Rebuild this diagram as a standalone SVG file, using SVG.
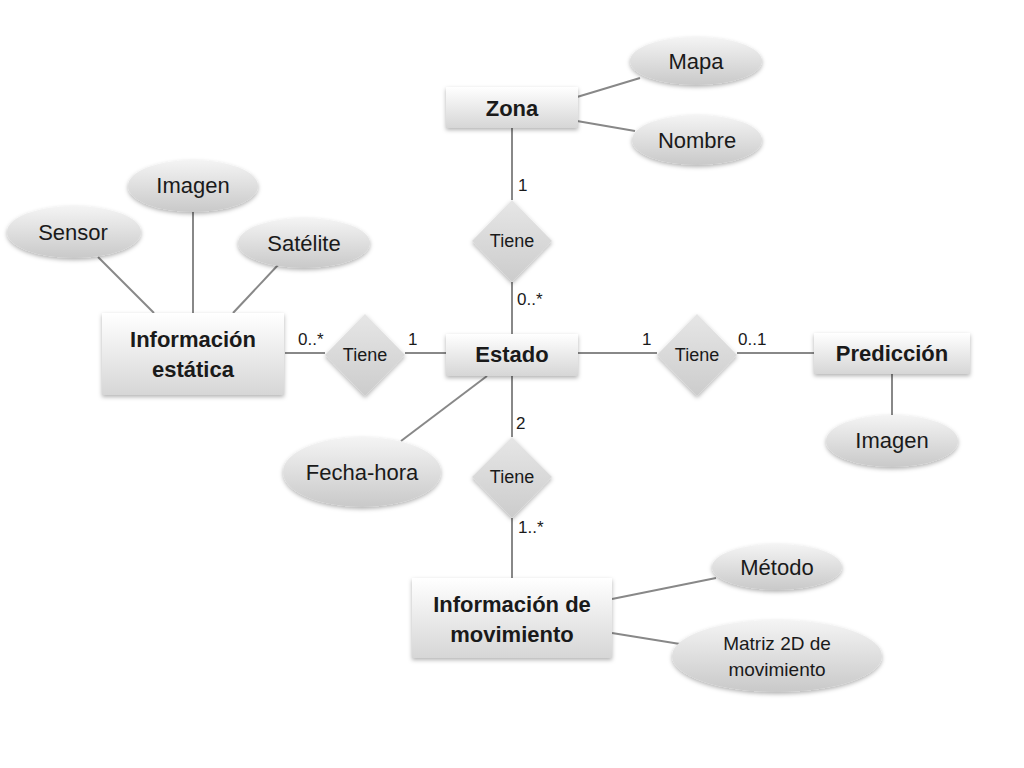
<svg xmlns="http://www.w3.org/2000/svg" width="1024" height="768" viewBox="0 0 1024 768">
<defs>
<linearGradient id="gEnt" x1="0" y1="0" x2="0" y2="1"><stop offset="0" stop-color="#ffffff"/><stop offset="1" stop-color="#d6d6d6"/></linearGradient>
<linearGradient id="gAtt" x1="0" y1="0" x2="0" y2="1"><stop offset="0" stop-color="#f4f4f4"/><stop offset="1" stop-color="#c9c9c9"/></linearGradient>
<linearGradient id="gRel" x1="0" y1="0" x2="0" y2="1"><stop offset="0" stop-color="#e6e6e6"/><stop offset="1" stop-color="#cccccc"/></linearGradient>
<filter id="sh" x="-20%" y="-20%" width="140%" height="150%"><feDropShadow dx="0" dy="2" stdDeviation="2" flood-color="#000" flood-opacity="0.3"/></filter>
<style>
.ent{fill:url(#gEnt);filter:url(#sh)}
.att{fill:url(#gAtt);filter:url(#sh)}
.rel{fill:url(#gRel);filter:url(#sh)}
.ln{stroke:#888;stroke-width:2;fill:none}
text{font-family:"Liberation Sans",Arial,sans-serif;fill:#1a1a1a;text-anchor:middle}
.et{font-size:22px;font-weight:bold}
.at{font-size:22px}
.rt{font-size:18px}
.ct{font-size:17px;text-anchor:start}
.mt{font-size:19px}
</style>
</defs>
<g id="connectors">
<line class="ln" x1="512" y1="128" x2="512" y2="200"/>
<line class="ln" x1="512" y1="282" x2="512" y2="335"/>
<line class="ln" x1="577" y1="97" x2="640" y2="78"/>
<line class="ln" x1="577" y1="121" x2="635" y2="131"/>
<line class="ln" x1="446" y1="353" x2="405" y2="353"/>
<line class="ln" x1="325" y1="353" x2="285" y2="353"/>
<line class="ln" x1="98" y1="257" x2="154" y2="313"/>
<line class="ln" x1="193" y1="212" x2="193" y2="313"/>
<line class="ln" x1="278" y1="265" x2="233" y2="313"/>
<line class="ln" x1="578" y1="353" x2="657" y2="353"/>
<line class="ln" x1="737" y1="353" x2="814" y2="353"/>
<line class="ln" x1="892" y1="374" x2="892" y2="415"/>
<line class="ln" x1="487" y1="376" x2="401" y2="441"/>
<line class="ln" x1="512" y1="376" x2="512" y2="437"/>
<line class="ln" x1="512" y1="518" x2="512" y2="578"/>
<line class="ln" x1="612" y1="599" x2="716" y2="578"/>
<line class="ln" x1="612" y1="633" x2="680" y2="644"/>
</g>
<g id="zona"><rect class="ent" x="446" y="87" width="132" height="41"/><text class="et" x="512" y="116">Zona</text></g>
<g id="mapa"><ellipse class="att" cx="696" cy="61" rx="66" ry="24"/><text class="at" x="696" y="69">Mapa</text></g>
<g id="nombre"><ellipse class="att" cx="697" cy="140" rx="65" ry="25"/><text class="at" x="697" y="148">Nombre</text></g>
<g id="tiene-zona"><polygon class="rel" points="512,200 552,241 512,282 472,241"/><text class="rt" x="512" y="247">Tiene</text></g>
<g id="estado"><rect class="ent" x="446" y="334" width="132" height="42"/><text class="et" x="512" y="362">Estado</text></g>
<g id="tiene-est"><polygon class="rel" points="365,314 405,355 365,396 325,355"/><text class="rt" x="365" y="361">Tiene</text></g>
<g id="info-estatica"><rect class="ent" x="102" y="313" width="182" height="82"/><text class="et" x="193" y="347">Información</text><text class="et" x="193" y="377">estática</text></g>
<g id="sensor"><ellipse class="att" cx="74" cy="232" rx="67" ry="26"/><text class="at" x="73" y="240">Sensor</text></g>
<g id="imagen1"><ellipse class="att" cx="193" cy="186" rx="65" ry="26"/><text class="at" x="193" y="193">Imagen</text></g>
<g id="satelite"><ellipse class="att" cx="304" cy="243" rx="66" ry="25"/><text class="at" x="304" y="251">Satélite</text></g>
<g id="tiene-pred"><polygon class="rel" points="697,314 737,355 697,396 657,355"/><text class="rt" x="697" y="361">Tiene</text></g>
<g id="prediccion"><rect class="ent" x="814" y="333" width="156" height="41"/><text class="et" x="892" y="361">Predicción</text></g>
<g id="imagen2"><ellipse class="att" cx="892" cy="441" rx="66" ry="26"/><text class="at" x="892" y="448">Imagen</text></g>
<g id="fecha-hora"><ellipse class="att" cx="362" cy="472" rx="79" ry="35"/><text class="at" x="362" y="480">Fecha-hora</text></g>
<g id="tiene-mov"><polygon class="rel" points="512,437 552,477 512,518 472,477"/><text class="rt" x="512" y="483">Tiene</text></g>
<g id="info-movimiento"><rect class="ent" x="412" y="578" width="200" height="80"/><text class="et" x="512" y="612">Información de</text><text class="et" x="512" y="642">movimiento</text></g>
<g id="metodo"><ellipse class="att" cx="777" cy="567" rx="65" ry="23"/><text class="at" x="777" y="575">Método</text></g>
<g id="matriz"><ellipse class="att" cx="777" cy="656" rx="105" ry="36"/><text class="mt" x="777" y="650">Matriz 2D de</text><text class="mt" x="777" y="676">movimiento</text></g>
<g id="labels">
<text class="ct" x="518" y="191">1</text>
<text class="ct" x="517" y="305">0..*</text>
<text class="ct" x="298" y="345">0..*</text>
<text class="ct" x="408" y="345">1</text>
<text class="ct" x="642" y="345">1</text>
<text class="ct" x="738" y="345">0..1</text>
<text class="ct" x="516" y="429">2</text>
<text class="ct" x="518" y="533">1..*</text>
</g>
</svg>
